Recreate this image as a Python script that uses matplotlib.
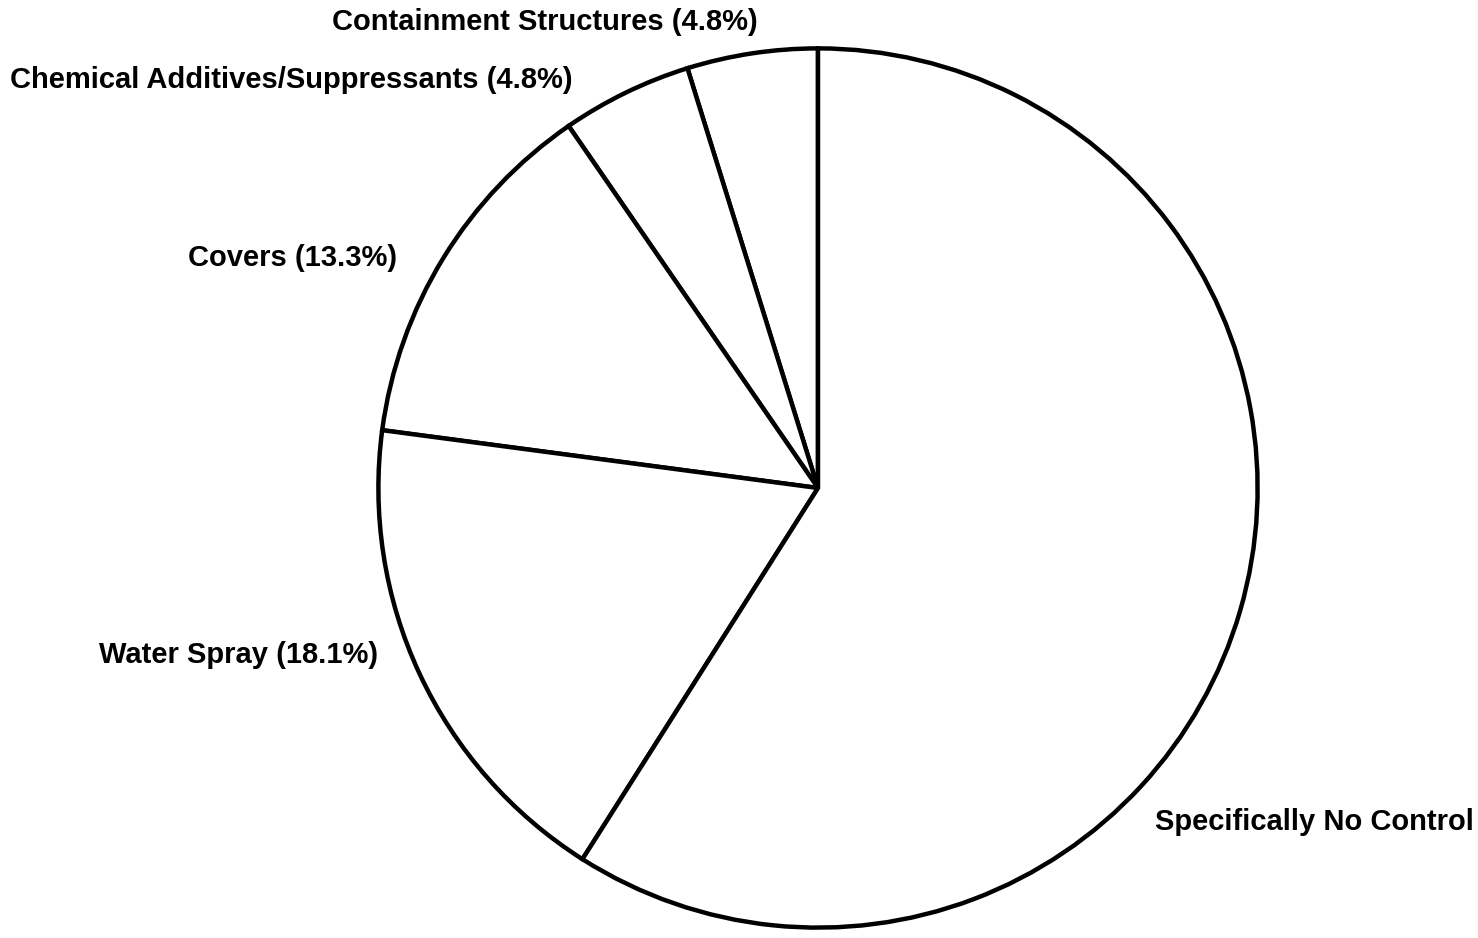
import matplotlib
matplotlib.use('Agg')
from matplotlib import pyplot as plt

CATEGORIES = ['Containment Structures', 'Chemical Additives/Suppressants',
              'Covers', 'Water Spray', 'Specifically No Control']
SHARES = [4.8, 4.8, 13.3, 18.1, 59.0]
SHOW_PCT = [True, True, True, True, False]

FONT = ['Liberation Sans', 'DejaVu Sans']

# label anchor in pixels (x, y from top), horizontal alignment
LABEL_POS = [
    (545, 22, 'center'),
    (10, 80, 'left'),
    (397, 258, 'right'),
    (378, 655, 'right'),
    (1155, 822, 'left'),
]

W, H = 1478, 938
CX, CY, R = 818, 488, 444


def main():
    fig = plt.figure(figsize=(W / 100, H / 100), dpi=100)
    ax = fig.add_axes([(CX - R) / W, (H - CY - R) / H, 2 * R / W, 2 * R / H])
    ax.pie(SHARES, startangle=90, counterclock=True, radius=1,
           colors=['white'] * len(SHARES),
           wedgeprops=dict(edgecolor='black', linewidth=3.2))
    ax.set_xlim(-1.01, 1.01)
    ax.set_ylim(-1.01, 1.01)
    ax.set_aspect('equal')
    ax.axis('off')

    for name, share, pct, (px, py, ha) in zip(CATEGORIES, SHARES, SHOW_PCT, LABEL_POS):
        label = f'{name} ({share:.1f}%)' if pct else name
        fig.text(px / W, 1 - py / H, label, ha=ha, va='center',
                 fontsize=21, fontweight='bold', family=FONT)

    fig.savefig('out.png', dpi=100, facecolor='white')


main()
